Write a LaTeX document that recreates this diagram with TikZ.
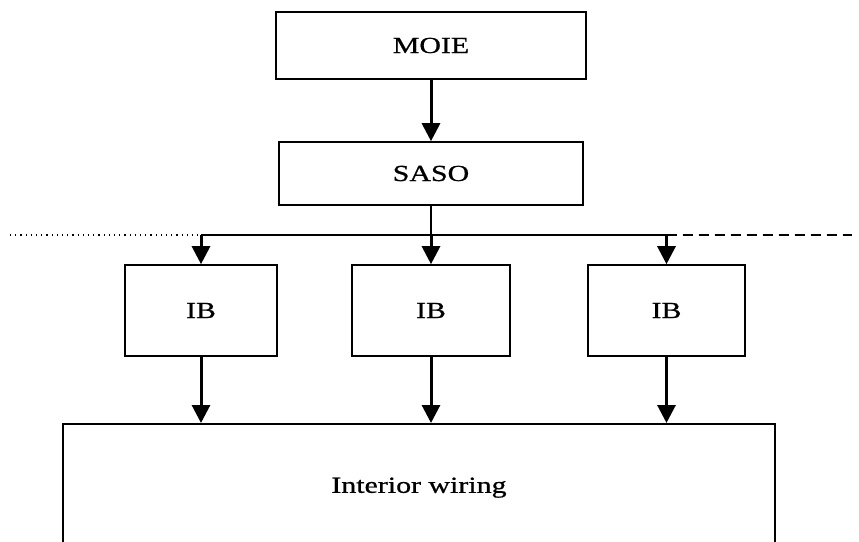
\documentclass[tikz,border=0pt]{standalone}
\usepackage{fontspec}
\setmainfont{Liberation Serif}[FakeStretch=1.3,FakeBold=0.8]
\usetikzlibrary{arrows.meta}
\tikzset{
  box/.style={draw,line width=0.8pt,inner sep=0pt,font=\fontsize{11.5}{13}\selectfont},
  arr/.style={line width=1.5pt,-{Triangle[length=9pt,width=9pt]}},
  bus/.style={line width=0.8pt}
}

\begin{document}
\begin{tikzpicture}[x=0.5pt,y=-0.5pt]
\useasboundingbox (0,0) rectangle (859,542);
\clip (0,0) rectangle (859,542);
\node[box,minimum width=155pt,minimum height=33.5pt] (moie) at (431,45.5) {MOIE};
\node[box,minimum width=152pt,minimum height=31.5pt] (saso) at (431,173.5) {SASO};
\foreach \n/\x/\w in {1/201/76pt,2/431/79pt,3/666.5/78.5pt}
  \node[box,minimum width=\w,minimum height=45.5pt] (ib\n) at (\x,310.5) {IB};
\node[box,anchor=north,minimum width=356pt,inner ysep=0pt,text height=34.5pt,text depth=60pt] (wiring) at (419,423) {Interior wiring};
\coordinate (busL) at (10,235);
\coordinate (busR) at (852,235);
\draw[arr] (moie) -- (saso);
\draw[bus] (saso.south) -- (saso.south |- busL);
\draw[line width=0.6pt,dotted] (busL) -- (ib1.north |- busL);
\draw[bus] (ib1.north |- busL) -- (ib3.north |- busL);
\draw[line width=0.7pt,dash pattern=on 5pt off 3pt] (ib3.north |- busL) -- (busR);
\foreach \n in {1,2,3}{
  \draw[arr] (ib\n.north |- busL) -- (ib\n.north);
  \draw[arr] (ib\n.south) -- (ib\n.south |- wiring.north);
}
\end{tikzpicture}
\end{document}
